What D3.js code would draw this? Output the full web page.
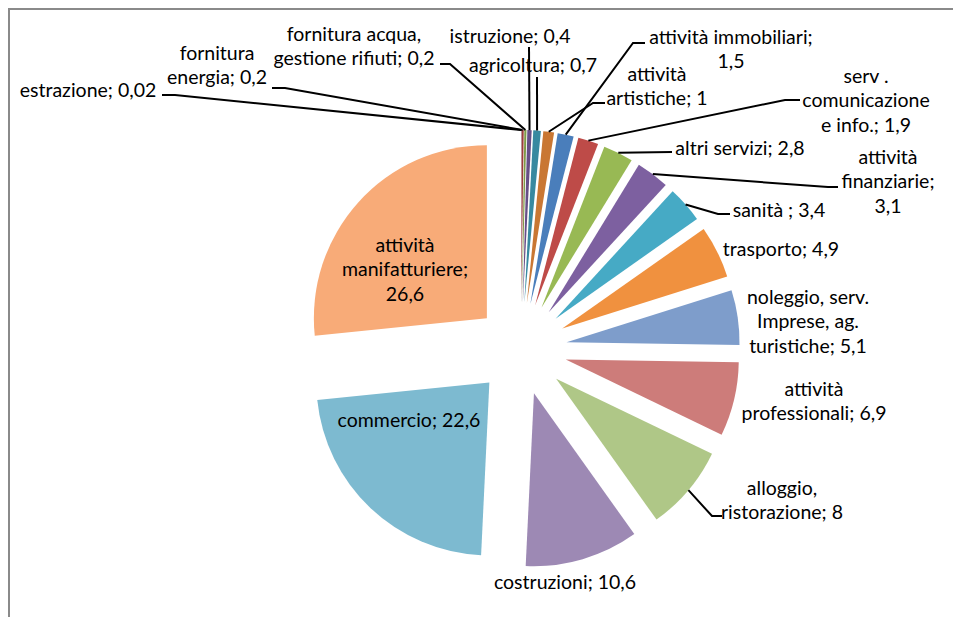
<!DOCTYPE html>
<html>
<head>
<meta charset="utf-8">
<script src="https://cdn.jsdelivr.net/npm/d3@7"></script>
<style>
  html, body { margin: 0; padding: 0; background: #fff; }
  svg { display: block; }
  text { font-family: Lato, "Noto Sans", sans-serif; fill: #000; }
</style>
</head>
<body>
<svg id="chart" width="953" height="617"></svg>
<script>
// Occupati per settore (%)
const categories = [
  "estrazione", "fornitura energia", "fornitura acqua, gestione rifiuti",
  "istruzione", "agricoltura", "attività artistiche", "attività immobiliari",
  "serv . comunicazione e info.", "altri servizi", "attività finanziarie",
  "sanità ", "trasporto", "noleggio, serv. Imprese, ag. turistiche",
  "attività professionali", "alloggio, ristorazione", "costruzioni",
  "commercio", "attività manifatturiere"
];
const values = [0.02, 0.2, 0.2, 0.4, 0.7, 1, 1.5, 1.9, 2.8, 3.1, 3.4, 4.9, 5.1, 6.9, 8, 10.6, 22.6, 26.6];

// Office-style palette: shaded, base and tinted accents
const colors = [
  "#3B6493", "#9C3D3A", "#7E9A47", "#664E86", "#3789A0", "#C97733",
  "#4A7EBB", "#BE4B48", "#98B954", "#7D60A0", "#46AAC5", "#F0913F",
  "#7E9DCB", "#CD7C7A", "#AFC787", "#9D89B4", "#7DBAD0", "#F8AB78"
];

// Label layout: words per line, centre x, first line y
const labelLines = [[2],[1,2],[2,3],[2],[2],[1,2],[2,1],[2,1,3],[3],[1,1,1],[3],[2],[2,2,2],[1,2],[1,2],[2],[2],[1,1,1]];
const labelPos = [
  [88, 90], [217, 53], [354, 34], [510, 36], [533, 65], [657, 74], [731, 37],
  [866, 76], [740, 148], [888, 157], [779, 210], [781, 249], [808, 297],
  [814, 389], [782, 488], [565, 582], [409, 420], [405, 245]
];
// Leader lines: end near label and optional elbow
const leaders = {
  0: { end: [162, 95], elbow: [175, 95] },
  1: { end: [272, 88], elbow: [285, 88] },
  2: { end: [440, 64], elbow: [450, 64] },
  3: { end: [529, 47] },
  4: { end: [537, 77] },
  5: { end: [605, 103], elbow: [593, 103] },
  6: { end: [645, 43], elbow: [633, 43] },
  7: { end: [800, 100], elbow: [785, 100] },
  8: { end: [672, 152] },
  9: { end: [838, 187], elbow: [828, 187] },
  10: { end: [730, 214], elbow: [718, 214] },
  14: { end: [722, 516], elbow: [712, 516] }
};

const W = 953, H = 617;
const cx = 521, cy = 349, R = 173, explode = 46;
const lineH = 24.5;

const svg = d3.select("#chart");

// chart area frame
svg.append("rect")
  .attr("x", 9).attr("y", 9).attr("width", W + 20).attr("height", H + 20)
  .attr("fill", "none").attr("stroke", "#8a8a8a").attr("stroke-width", 2);

const fmt = v => String(v).replace(".", ",");

const pie = d3.pie().sort(null).value(d => d)(values);
const arc = d3.arc().innerRadius(0).outerRadius(R);

const g = svg.append("g").attr("transform", `translate(${cx},${cy})`);

const mid = d => (d.startAngle + d.endAngle) / 2;

g.selectAll("path.slice")
  .data(pie)
  .join("path")
  .attr("class", "slice")
  .attr("d", arc)
  .attr("fill", (d, i) => colors[i])
  .attr("transform", d => `translate(${explode * Math.sin(mid(d))},${-explode * Math.cos(mid(d))})`);

// leader lines from each slice's outer edge
pie.forEach((d, i) => {
  const L = leaders[i];
  if (!L) return;
  const a = mid(d);
  const p0 = [cx + (R + explode) * Math.sin(a), cy - (R + explode) * Math.cos(a)];
  const pts = [p0];
  if (L.elbow) pts.push(L.elbow);
  pts.push(L.end);
  svg.append("path")
    .attr("d", d3.line()(pts))
    .attr("fill", "none")
    .attr("stroke", "#000")
    .attr("stroke-width", 2);
});

// data labels
pie.forEach((d, i) => {
  const words = (categories[i] + "; " + fmt(values[i])).split(" ");
  const lines = [];
  let k = 0;
  labelLines[i].forEach(n => { lines.push(words.slice(k, k + n).join(" ")); k += n; });
  const t = svg.append("text")
    .attr("text-anchor", "middle")
    .attr("font-size", 19.5);
  lines.forEach((ln, j) => {
    t.append("tspan")
      .attr("x", labelPos[i][0])
      .attr("y", labelPos[i][1] + j * lineH)
      .attr("dy", "0.35em")
      .text(ln);
  });
});
</script>
</body>
</html>
